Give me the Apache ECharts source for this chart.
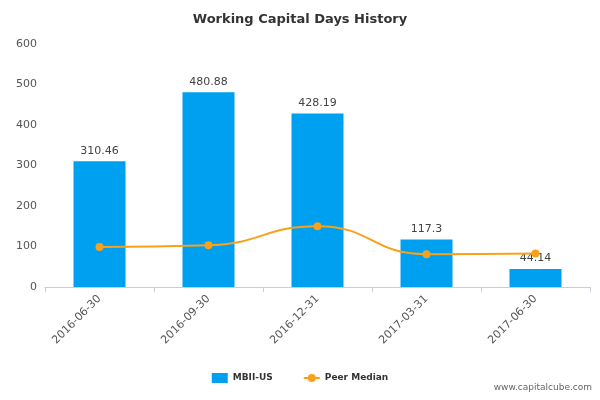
<!DOCTYPE html>
<html><head><meta charset="utf-8">
<script src="https://cdn.jsdelivr.net/npm/echarts@6/dist/echarts.min.js"></script>
<style>html,body{margin:0;padding:0;background:#fff}#c{width:600px;height:400px}</style>
</head><body><div id="c"></div>
<script>
const categories = ['2016-06-30','2016-09-30','2016-12-31','2017-03-31','2017-06-30'];
const mbiiValues = [310.46, 480.88, 428.19, 117.3, 44.14];
const peerMedian = [99, 103, 150, 81, 83];
const chart = echarts.init(document.getElementById('c'));
chart.setOption({
  animation:false,
  title:{text:'Working Capital Days History',left:'center',top:8,textStyle:{fontFamily:'DejaVu Sans',fontSize:13,fontWeight:'bold',color:'#333'}},
  graphic:[{type:'text',right:8,bottom:8,style:{text:'www.capitalcube.com',font:'9px DejaVu Sans',fill:'#666'}}],
  legend:{bottom:12,itemGap:30,textStyle:{fontFamily:'DejaVu Sans',fontSize:9,fontWeight:'bold',color:'#333'},
    data:[{name:'MBII-US',icon:'rect'},{name:'Peer Median'}],itemWidth:16,itemHeight:10},
  grid:{left:45,right:10,top:44,bottom:113},
  xAxis:{type:'category',data:categories,axisTick:{show:true,alignWithLabel:false,lineStyle:{color:'#c0d0e0'}},
    axisLine:{lineStyle:{color:'#c0d0e0'}},axisLabel:{rotate:45,color:'#555',fontFamily:'DejaVu Sans',fontSize:11,margin:10}},
  yAxis:{type:'value',min:0,max:600,interval:100,splitLine:{show:false},axisLine:{show:false},axisTick:{show:false},
    axisLabel:{color:'#555',fontFamily:'DejaVu Sans',fontSize:11}},
  series:[
    {name:'MBII-US',type:'bar',data:mbiiValues,barWidth:52,itemStyle:{color:'#00a0f0'},
      label:{show:true,position:'top',color:'#444',fontFamily:'DejaVu Sans',fontSize:11}},
    {name:'Peer Median',type:'line',data:peerMedian,smooth:true,symbol:'circle',symbolSize:8,
      itemStyle:{color:'#f9a11b'},lineStyle:{color:'#f9a11b',width:2}}
  ]
});
</script></body></html>
